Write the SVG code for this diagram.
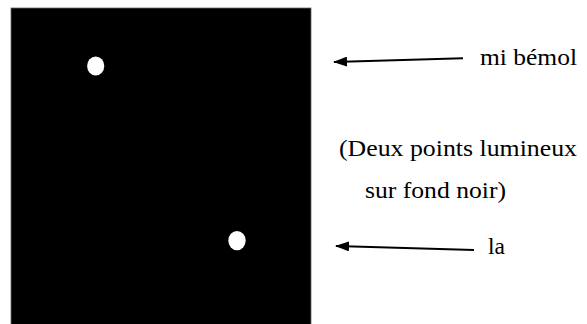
<svg xmlns="http://www.w3.org/2000/svg" width="587" height="324" viewBox="0 0 587 324">
<style>
text{font-family:'Times New Roman','Liberation Serif',Tinos,serif;font-size:23px;fill:#000}
.c{stroke:#000;stroke-width:2;fill:none}
.dot{fill:#fff}
</style>
<defs>
<marker id="ah" viewBox="0 0 14 10" refX="13" refY="5" markerWidth="14" markerHeight="10" markerUnits="userSpaceOnUse" orient="auto">
<path d="M14,5 L0,0 L0,10 Z" fill="#000"/>
</marker>
</defs>
<rect width="587" height="324" fill="#fff"/>
<g id="fond">
<rect x="11" y="8" width="300" height="320" fill="#000" stroke="#666" stroke-width="0.8"/>
</g>
<g id="point-mi">
<ellipse class="dot" cx="95.7" cy="66" rx="8.6" ry="9.4"/>
</g>
<g id="point-la">
<ellipse class="dot" cx="237" cy="240.6" rx="8.7" ry="9.6"/>
</g>
<g id="connecteurs">
<line class="c" x1="463" y1="58.3" x2="334" y2="62" marker-end="url(#ah)"/>
<line class="c" x1="474" y1="250" x2="336" y2="246" marker-end="url(#ah)"/>
</g>
<g id="label-mi">
<text x="480" y="65" textLength="97" lengthAdjust="spacingAndGlyphs">mi bémol</text>
</g>
<g id="label-note">
<text x="339" y="156" textLength="238" lengthAdjust="spacingAndGlyphs">(Deux points lumineux</text>
<text x="365" y="198" textLength="141" lengthAdjust="spacingAndGlyphs">sur fond noir)</text>
</g>
<g id="label-la">
<text x="488" y="254" textLength="17" lengthAdjust="spacingAndGlyphs">la</text>
</g>
</svg>
